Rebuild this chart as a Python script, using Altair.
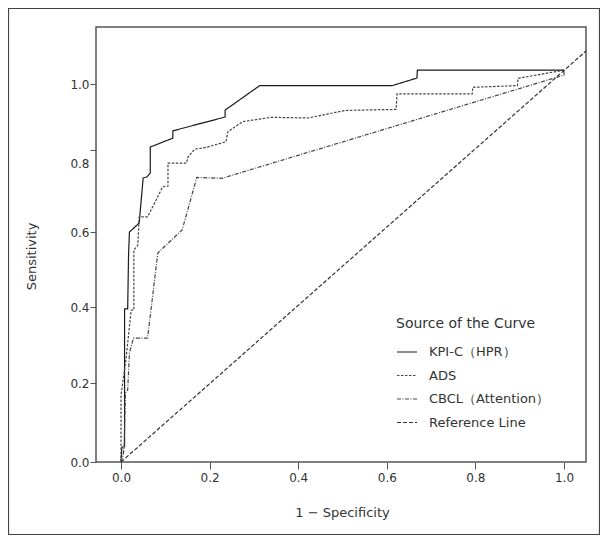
import altair as alt
import pandas as pd

# ---------------- data ----------------
series_names = ["KPI-C（HPR）", "ADS", "CBCL（Attention）", "Reference Line"]

kpi_x = [0.0, 0.002, 0.008, 0.008, 0.015, 0.017, 0.019, 0.041, 0.050, 0.058, 0.066,
         0.066, 0.117, 0.117, 0.235, 0.235, 0.313, 0.612, 0.668, 0.669, 1.0]
kpi_y = [0.0, 0.038, 0.038, 0.395, 0.395, 0.539, 0.600, 0.622, 0.732, 0.734, 0.744,
         0.809, 0.836, 0.858, 0.900, 0.921, 0.995, 0.995, 1.018, 1.042, 1.042]

ads_x = [0.0, 0.0, 0.011, 0.023, 0.029, 0.029, 0.038, 0.041, 0.060, 0.094, 0.106,
         0.106, 0.148, 0.151, 0.166, 0.192, 0.237, 0.241, 0.275, 0.339, 0.423,
         0.506, 0.621, 0.623, 0.793, 0.794, 0.895, 0.896, 1.0]
ads_y = [0.0, 0.170, 0.261, 0.392, 0.392, 0.552, 0.565, 0.637, 0.637, 0.710, 0.712,
         0.768, 0.768, 0.783, 0.802, 0.808, 0.825, 0.855, 0.886, 0.899, 0.897,
         0.920, 0.923, 0.970, 0.970, 0.990, 0.995, 1.017, 1.042]

cbcl_x = [0.0, 0.005, 0.007, 0.010, 0.015, 0.019, 0.028, 0.060, 0.083, 0.138,
          0.171, 0.228, 1.0, 1.0]
cbcl_y = [0.0, 0.018, 0.039, 0.175, 0.182, 0.279, 0.318, 0.318, 0.544, 0.605,
          0.733, 0.731, 1.027, 1.042]

ref_x = [0.0, 1.0497]
ref_y = [0.0, 1.10]

x_ticks = [0.0, 0.2, 0.4, 0.6, 0.8, 1.0]
y_ticks = [0.0, 0.2, 0.4, 0.6, 0.8, 1.0]

rows = []
for name, xs, ys in zip(series_names, [kpi_x, ads_x, cbcl_x, ref_x],
                        [kpi_y, ads_y, cbcl_y, ref_y]):
    for i, (xv, yv) in enumerate(zip(xs, ys)):
        rows.append({"series": name, "fpr": xv, "tpr": yv, "idx": i})
df = pd.DataFrame(rows)

# ---------------- styling ----------------
FONT = "DejaVu Sans"
W, H = 490, 435
y_range = [435, 356, 280, 205, 123, 57]   # piecewise positions of the y ticks
line_colors = ["#1a1a1a", "#444444", "#444444", "#333333"]
line_dashes = [[1, 0], [2.5, 1.5], [4, 1.5, 1, 1.5], [4, 2]]

legend = alt.Legend(title="Source of the Curve", orient="none",
                    legendX=300, legendY=290, padding=0,
                    titleFont=FONT, titleFontSize=14, titleFontWeight="normal",
                    titleColor="#333", titlePadding=10,
                    labelFont=FONT, labelFontSize=13, labelColor="#333",
                    labelOffset=11, symbolType="stroke", symbolSize=400,
                    symbolStrokeWidth=1.1, rowPadding=5.5)

lines = alt.Chart(df).mark_line(strokeWidth=1.2).encode(
    x=alt.X("fpr:Q",
            scale=alt.Scale(domain=[-0.0565, 1.0497], nice=False, zero=False),
            axis=alt.Axis(values=x_ticks, format=".1f", title="1 − Specificity",
                          grid=False, domain=False, tickSize=7, tickColor="#555",
                          labelPadding=3, labelFont=FONT, labelFontSize=12,
                          labelColor="#333", titleFont=FONT, titleFontSize=13,
                          titleFontWeight="normal", titleColor="#333",
                          titleX=246, titleY=50, titleBaseline="middle")),
    y=alt.Y("tpr:Q",
            scale=alt.Scale(domain=y_ticks, range=y_range, nice=False, zero=False),
            axis=alt.Axis(values=y_ticks, format=".1f", title="Sensitivity",
                          grid=False, domain=False, tickSize=6, tickColor="#555",
                          labelPadding=1, labelFont=FONT, labelFontSize=12,
                          labelColor="#333",
                          labelOffset={"condition": {"test": "datum.value == 0.8", "value": 13},
                                       "value": 0},
                          titleFont=FONT, titleFontSize=13,
                          titleFontWeight="normal", titleColor="#333",
                          titleX=-65, titleY=229, titleAngle=270,
                          titleAlign="center", titleBaseline="middle")),
    color=alt.Color("series:N", scale=alt.Scale(domain=series_names, range=line_colors),
                    legend=legend),
    strokeDash=alt.StrokeDash(
        "series:N", scale=alt.Scale(domain=series_names, range=line_dashes),
        legend=legend),
    order=alt.Order("idx:Q"),
)

border = alt.Chart(pd.DataFrame({"a": [0]})).mark_rect(
    fillOpacity=0, stroke="#444", strokeWidth=1.2
).encode(
    x=alt.value(-87.5), x2=alt.value(503.5),
    y=alt.value(-18.5), y2=alt.value(507.5),
)

chart = alt.layer(lines, border).properties(
    width=W, height=H,
    padding={"left": 88, "top": 19, "right": 14, "bottom": 73},
    autosize="none",
    background="white",
).configure_view(stroke="#555", strokeWidth=1.5)

chart.save("out.html", embed_options={"renderer": "svg", "actions": False})
